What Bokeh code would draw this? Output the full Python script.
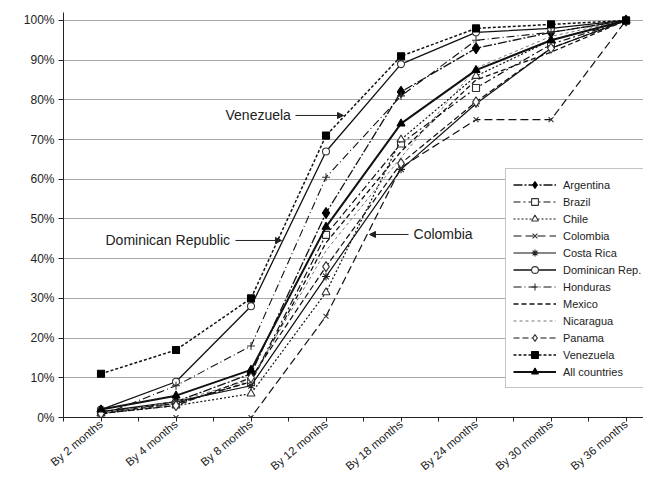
from bokeh.plotting import figure
from bokeh.models import (Range1d, FixedTicker, PrintfTickFormatter, Label, Arrow,
                          NormalHead, Legend)
from bokeh.embed import file_html
from bokeh.resources import INLINE

months = ["By 2 months", "By 4 months", "By 8 months", "By 12 months",
          "By 18 months", "By 24 months", "By 30 months", "By 36 months"]

argentina  = [1.0, 4.0, 11.0, 51.5, 82.0, 93.0, 97.0, 100.0]
brazil     = [1.5, 3.5, 9.0, 46.0, 69.0, 83.0, 94.0, 100.0]
chile      = [1.0, 3.0, 6.0, 31.5, 70.0, 86.0, 95.0, 100.0]
colombia   = [0.0, 0.0, 0.0, 25.5, 63.0, 75.0, 75.0, 100.0]
costa_rica = [1.5, 4.0, 8.0, 35.5, 62.5, 79.0, 93.0, 100.0]
dominican  = [2.0, 9.0, 28.0, 67.0, 89.0, 97.0, 98.0, 100.0]
honduras   = [0.5, 8.0, 18.0, 60.5, 81.0, 95.0, 97.0, 100.0]
mexico     = [1.0, 3.5, 9.0, 44.0, 67.0, 85.0, 92.0, 100.0]
nicaragua  = [1.0, 4.0, 9.5, 42.0, 65.5, 88.0, 96.0, 100.0]
panama     = [1.0, 3.0, 10.0, 38.0, 64.0, 79.5, 93.0, 100.0]
venezuela  = [11.0, 17.0, 30.0, 71.0, 91.0, 98.0, 99.0, 100.0]
all_countries = [2.0, 5.5, 12.0, 48.0, 74.0, 87.5, 95.0, 100.0]

y_ticks = [0, 10, 20, 30, 40, 50, 60, 70, 80, 90, 100]

xs = list(range(len(months)))
FONT = "Liberation Sans"

p = figure(width=643, height=479, output_backend="svg", toolbar_location=None,
           x_range=Range1d(-0.5, 7.233), y_range=Range1d(0, 102.0),
           min_border_left=63, min_border_right=0, min_border_top=12,
           min_border_bottom=62)
p.outline_line_color = None
p.background_fill_color = "white"
p.border_fill_color = "white"

# axes
half_ticks = [i * 0.5 - 0.5 for i in range(2 * len(months) + 1)]
p.xaxis.ticker = FixedTicker(ticks=half_ticks)
overrides = {}
for t in half_ticks:
    if float(t).is_integer() and 0 <= int(t) < len(months):
        overrides[t] = months[int(t)]
    else:
        overrides[t] = ""
p.xaxis.major_label_overrides = overrides
p.xaxis.major_label_orientation = 0.7
p.xaxis.major_label_text_font = FONT
p.xaxis.major_label_text_font_size = "11.5px"
p.xaxis.major_label_text_color = "#222222"
p.xaxis.major_label_standoff = 1
p.xaxis.major_tick_in = 0
p.xaxis.major_tick_out = 4
p.xaxis.minor_tick_line_color = None
p.xaxis.axis_line_color = "#222222"
p.xaxis.major_tick_line_color = "#222222"

p.yaxis.ticker = FixedTicker(ticks=y_ticks)
p.yaxis.formatter = PrintfTickFormatter(format="%d%%")
p.yaxis.major_label_text_font = FONT
p.yaxis.major_label_text_font_size = "12px"
p.yaxis.major_label_text_color = "#222222"
p.yaxis.major_label_standoff = 4
p.yaxis.major_tick_in = 0
p.yaxis.major_tick_out = 5
p.yaxis.minor_tick_line_color = None
p.yaxis.axis_line_color = "#222222"
p.yaxis.major_tick_line_color = "#222222"

p.xgrid.grid_line_color = None
p.ygrid.ticker = FixedTicker(ticks=y_ticks)
p.ygrid.grid_line_color = "#a8a8a8"
p.ygrid.grid_line_width = 1.2

series = [
    ("Argentina", argentina, dict(line_dash="9 2 2 2", line_width=1.3),
     dict(marker="diamond", size=11, fill_color="black", line_color="black")),
    ("Brazil", brazil, dict(line_dash="7 3 2 3", line_width=1.2),
     dict(marker="square", size=7, fill_color="white", line_color="#333333")),
    ("Chile", chile, dict(line_dash="2 2", line_width=1.2),
     dict(marker="triangle", size=8, fill_color="white", line_color="#333333")),
    ("Colombia", colombia, dict(line_dash="8 4", line_width=1.2),
     dict(marker="x", size=7, fill_color=None, line_color="#333333")),
    ("Costa Rica", costa_rica, dict(line_dash="solid", line_width=1.2),
     dict(marker="asterisk", size=8, fill_color=None, line_color="#222222")),
    ("Dominican Rep.", dominican, dict(line_dash="solid", line_width=1.3),
     dict(marker="circle", size=7, fill_color="white", line_color="#333333")),
    ("Honduras", honduras, dict(line_dash="8 3 1 3", line_width=1.1),
     dict(marker="cross", size=8, fill_color=None, line_color="#333333")),
    ("Mexico", mexico, dict(line_dash="5 3", line_width=1.3), None),
    ("Nicaragua", nicaragua, dict(line_dash="3 3", line_width=1.0, line_color="#777777"), None),
    ("Panama", panama, dict(line_dash="6 3", line_width=1.2),
     dict(marker="diamond", size=10, fill_color="white", line_color="#333333")),
    ("Venezuela", venezuela, dict(line_dash="3 2", line_width=1.5),
     dict(marker="square", size=7, fill_color="black", line_color="black")),
    ("All countries", all_countries, dict(line_dash="solid", line_width=2.0),
     dict(marker="triangle", size=8, fill_color="black", line_color="black")),
]

items = []
for name, vals, lkw, mkw in series:
    lkw = dict(lkw)
    lkw.setdefault("line_color", "#111111")
    rends = [p.line(xs, vals, **lkw)]
    if mkw is not None:
        rends.append(p.scatter(xs, vals, line_width=1.1, **mkw))
    items.append((name, rends))

legend = Legend(items=items, location=(442, 29))
legend.label_text_font = FONT
legend.label_text_font_size = "11px"
legend.label_text_color = "#222222"
legend.glyph_width = 43
legend.glyph_height = 17
legend.label_height = 17
legend.spacing = 0
legend.padding = 7
legend.margin = 0
legend.label_standoff = 7
legend.border_line_color = "#888888"
legend.border_line_width = 1
legend.background_fill_alpha = 1.0
p.add_layout(legend, "center")

# annotations (positions in data units, converted from picture pixels)
def px(x):
    return (x - 100.5) / 75.0

def py(y):
    return (417 - y) / 3.97

for txt, tx, ty in [("Venezuela", 225, 115), ("Dominican Republic", 105, 240),
                    ("Colombia", 413, 234)]:
    p.add_layout(Label(x=px(tx), y=py(ty), text=txt, text_font=FONT,
                       text_font_size="14px", text_color="#222222",
                       text_baseline="middle", text_align="left"))

for x0, x1, yy in [(295, 343, 115), (235, 281, 240), (408, 369, 234)]:
    p.add_layout(Arrow(end=NormalHead(size=6, fill_color="#222222", line_color="#222222"),
                       x_start=px(x0), y_start=py(yy), x_end=px(x1), y_end=py(yy),
                       line_color="#222222", line_width=1))

open("out.html", "w").write(file_html(p, INLINE))
